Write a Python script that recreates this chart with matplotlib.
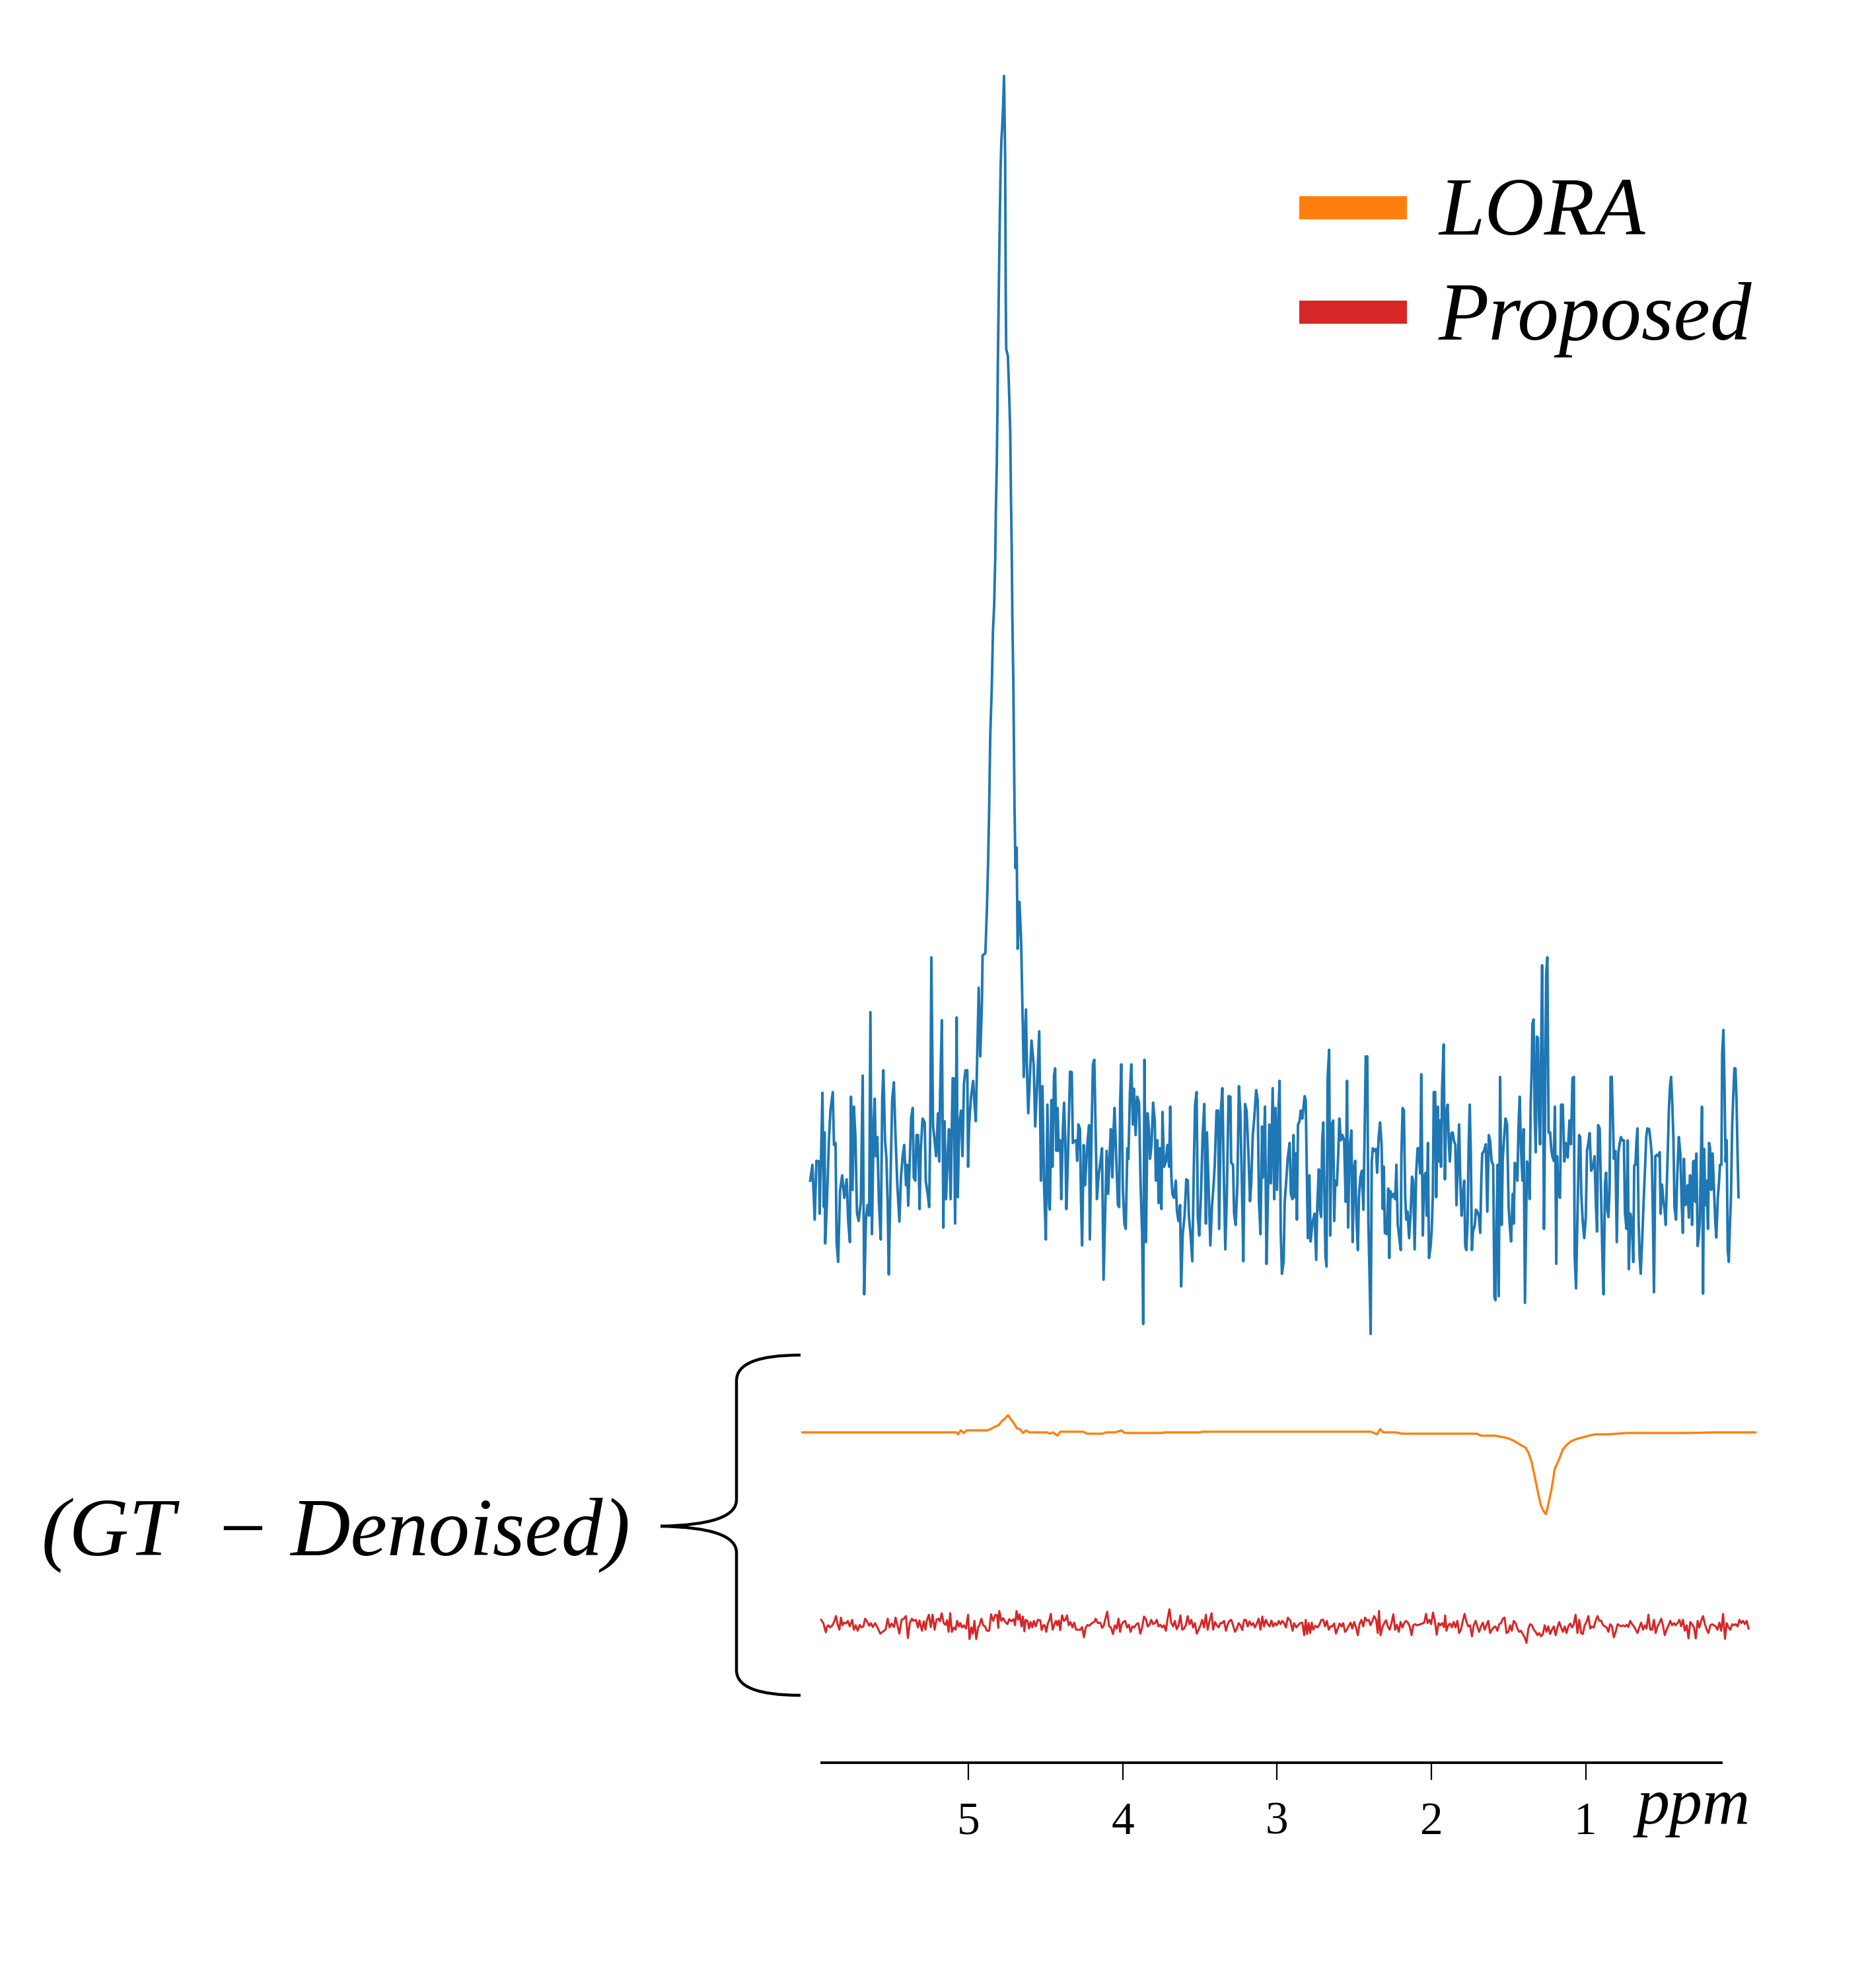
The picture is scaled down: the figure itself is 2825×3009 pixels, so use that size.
import matplotlib
matplotlib.use('Agg')
import matplotlib.pyplot as plt
from matplotlib.path import Path
from matplotlib.patches import PathPatch, Rectangle

# measured spectrum (GT) and the two residuals, ppm vs. intensity (a.u.)
blue_ppm = [
    6.025, 6.011, 5.996, 5.985, 5.968, 5.964, 5.954, 5.946, 5.936, 5.932,
    5.928, 5.918, 5.911, 5.904, 5.894, 5.879, 5.871, 5.861, 5.854, 5.844,
    5.832, 5.818, 5.804, 5.789, 5.779, 5.768, 5.761, 5.751, 5.742, 5.732,
    5.722, 5.711, 5.697, 5.685, 5.675, 5.664, 5.654, 5.643, 5.635, 5.625,
    5.614, 5.607, 5.600, 5.590, 5.580, 5.568, 5.558, 5.551, 5.540, 5.531,
    5.523, 5.516, 5.504, 5.494, 5.483, 5.473, 5.461, 5.447, 5.437, 5.426,
    5.416, 5.404, 5.397, 5.390, 5.380, 5.371, 5.361, 5.354, 5.344, 5.336,
    5.326, 5.316, 5.309, 5.297, 5.283, 5.276, 5.264, 5.254, 5.247, 5.240,
    5.229, 5.219, 5.209, 5.197, 5.189, 5.183, 5.172, 5.162, 5.155, 5.145,
    5.136, 5.126, 5.115, 5.102, 5.095, 5.086, 5.076, 5.069, 5.059, 5.048,
    5.038, 5.029, 5.019, 5.007, 5.002, 4.995, 4.983, 4.969, 4.962, 4.952,
    4.943, 4.933, 4.923, 4.912, 4.908, 4.890,
    # water peak
    4.880, 4.872, 4.866, 4.862, 4.858, 4.848, 4.841, 4.833, 4.826, 4.822,
    4.816, 4.812, 4.809, 4.805, 4.801, 4.796, 4.791, 4.786, 4.781, 4.775,
    4.769, 4.762, 4.758, 4.755, 4.744, 4.738, 4.729, 4.724, 4.719, 4.715,
    4.709, 4.705, 4.701, 4.695, 4.687, 4.681, 4.669, 4.658, 4.651, 4.641,
    4.627,
    4.619, 4.612, 4.591, 4.577, 4.567, 4.555, 4.541, 4.530, 4.520, 4.510,
    4.498, 4.488, 4.477,
    4.472, 4.462, 4.455, 4.445, 4.438, 4.430, 4.422, 4.415, 4.405, 4.398,
    4.387, 4.380, 4.372, 4.365, 4.355, 4.348, 4.341, 4.330, 4.323, 4.313,
    4.301, 4.295, 4.287, 4.277, 4.270, 4.263, 4.253, 4.244, 4.234, 4.227,
    4.218, 4.213, 4.201, 4.193, 4.184, 4.174, 4.167, 4.156, 4.144, 4.134,
    4.124, 4.113, 4.104, 4.094, 4.084, 4.077, 4.067, 4.059, 4.053, 4.041,
    4.031, 4.023, 4.016, 4.009, 3.999, 3.989, 3.980, 3.970, 3.963, 3.953,
    3.944, 3.934, 3.927, 3.916, 3.906, 3.894, 3.884, 3.874, 3.867, 3.859,
    3.849, 3.839, 3.830, 3.823, 3.813, 3.803, 3.792, 3.785, 3.775, 3.767,
    3.759, 3.749, 3.742, 3.732, 3.720, 3.710, 3.699, 3.692, 3.685, 3.678,
    3.668, 3.656, 3.649, 3.639, 3.628, 3.621, 3.611, 3.599, 3.588, 3.578,
    3.571, 3.559, 3.549, 3.539, 3.531, 3.521, 3.513, 3.504, 3.492, 3.482,
    3.471, 3.461, 3.454, 3.442, 3.432, 3.421, 3.411, 3.404, 3.392, 3.382,
    3.375, 3.364, 3.354, 3.345, 3.335, 3.325, 3.314, 3.302, 3.297, 3.285,
    3.278, 3.268, 3.257, 3.247, 3.238, 3.228, 3.218, 3.207, 3.197, 3.185,
    3.175, 3.167, 3.157, 3.147, 3.135, 3.125, 3.117, 3.107, 3.097, 3.090,
    3.078, 3.068, 3.060, 3.050, 3.040, 3.028, 3.018, 3.010, 3.000, 2.990,
    2.983, 2.976, 2.968, 2.957, 2.950, 2.940, 2.931,
    2.918, 2.910, 2.900, 2.893, 2.886, 2.879, 2.871, 2.864, 2.854, 2.846,
    2.836, 2.829, 2.821, 2.814, 2.807, 2.800, 2.790, 2.782, 2.771, 2.757,
    2.746, 2.739, 2.729, 2.722, 2.714, 2.707, 2.700, 2.693, 2.686, 2.679,
    2.672, 2.662, 2.655, 2.646, 2.636, 2.629, 2.622, 2.612, 2.603, 2.596,
    2.586, 2.576, 2.565, 2.555, 2.546, 2.539, 2.529, 2.518, 2.510, 2.500,
    2.493, 2.486, 2.476, 2.469, 2.460, 2.450, 2.440, 2.432, 2.425, 2.415,
    2.408, 2.400, 2.393, 2.386, 2.379, 2.369, 2.358, 2.351, 2.341, 2.332,
    2.322, 2.315, 2.308, 2.301, 2.289, 2.279, 2.272, 2.265, 2.255, 2.244,
    2.234, 2.226, 2.218, 2.208, 2.198, 2.194, 2.186, 2.178, 2.169, 2.162,
    2.154, 2.144, 2.134, 2.125, 2.118, 2.108, 2.098, 2.089, 2.082, 2.072,
    2.065, 2.055, 2.047, 2.037, 2.030, 2.022, 2.015, 2.005, 1.997, 1.990,
    1.984, 1.975, 1.968, 1.958, 1.950, 1.944, 1.937, 1.930, 1.920, 1.912,
    1.904, 1.894, 1.887, 1.880, 1.870, 1.861, 1.854, 1.844, 1.837, 1.830,
    1.820, 1.813, 1.804, 1.797, 1.787, 1.780, 1.773, 1.765, 1.758, 1.751,
    1.744, 1.737, 1.730, 1.718, 1.711, 1.701, 1.691, 1.683, 1.676, 1.670,
    1.658, 1.647, 1.637, 1.627, 1.619, 1.609, 1.599, 1.591, 1.584, 1.577,
    1.570, 1.563, 1.554, 1.544, 1.537, 1.527, 1.519, 1.509, 1.499, 1.490,
    1.483, 1.473, 1.466, 1.459, 1.452, 1.442, 1.435, 1.427, 1.419, 1.409,
    1.402, 1.393,
    1.380, 1.370, 1.363, 1.356, 1.349, 1.345, 1.337, 1.330, 1.323, 1.316,
    1.309, 1.302, 1.295, 1.288, 1.282, 1.276, 1.270, 1.263, 1.256, 1.248,
    1.240, 1.230, 1.223, 1.216, 1.206, 1.199, 1.190, 1.185, 1.176, 1.166,
    1.159, 1.148, 1.138, 1.128, 1.116, 1.105, 1.095, 1.085, 1.076, 1.071,
    1.062, 1.052, 1.042, 1.035, 1.028, 1.019, 1.009, 0.999, 0.991, 0.984,
    0.974, 0.964, 0.952, 0.942, 0.934, 0.926, 0.919, 0.909, 0.899, 0.891,
    0.884, 0.874, 0.867, 0.859, 0.852, 0.845, 0.838, 0.831, 0.824, 0.817,
    0.807, 0.798, 0.788, 0.781, 0.771, 0.762, 0.752, 0.745, 0.735, 0.727,
    0.720, 0.710, 0.700, 0.691, 0.685, 0.677, 0.671, 0.664, 0.657, 0.650,
    0.643, 0.634, 0.624, 0.614, 0.607, 0.600, 0.588, 0.578, 0.571, 0.563,
    0.557, 0.548, 0.538, 0.528, 0.520, 0.514, 0.505, 0.495, 0.488, 0.481,
    0.474, 0.467, 0.460, 0.453, 0.446, 0.438, 0.431, 0.424, 0.414, 0.406,
    0.396, 0.386, 0.377, 0.370, 0.363, 0.353, 0.346, 0.339, 0.331, 0.324,
    0.317, 0.310, 0.303, 0.296, 0.289, 0.282, 0.274, 0.267, 0.260, 0.253,
    0.246, 0.239, 0.232, 0.224, 0.217, 0.207, 0.200, 0.193, 0.186, 0.177,
    0.167, 0.160, 0.153, 0.143, 0.136, 0.129, 0.120, 0.115, 0.107, 0.100,
    0.093, 0.086, 0.079, 0.072, 0.065, 0.058, 0.050, 0.043, 0.036, 0.029,
    0.022, 0.015, 0.009,
]
blue_int = [
    -1.04, -0.80, -1.63, -0.74, -0.75, -1.54, -0.59, 0.29, -1.44, -0.31,
    -1.99, -1.44, -0.96, -0.43, 0.02, 0.30, -0.50, -0.47, -1.97, -2.27,
    -1.20, -0.96, -1.30, -1.02, -1.65, -1.97, 0.23, -1.18, 0.08, -0.38,
    -1.53, -1.65, -1.36, 0.55, -2.76, -1.63, -1.41, -1.57, 1.51, -1.85,
    -0.19, 0.20, -0.67, -0.38, -1.36, -1.93, 0.23, 0.63, -0.43, -0.71,
    -1.42, -2.46, -0.96, 0.18, 0.45, -0.31, -1.08, -1.66, -0.99, -0.67,
    -0.50, -1.11, -0.80, -1.42, -0.75, -0.10, 0.06, -0.99, -1.04, -0.35,
    -0.35, -1.47, -0.59, -0.10, -0.16, -1.05, -1.24, -1.44, -0.22, 2.34,
    -0.22, -0.43, -0.67, -0.02, -0.75, 0.30, 1.39, -1.75, -0.14, -1.32,
    -0.75, -0.26, -1.32, 0.51, 0.51, -1.69, 1.43, -1.29, -0.19, 0.02,
    -0.67, 0.42, 0.63, 0.63, -0.83, -0.19, 0.23, 0.47, 0.18, -0.14,
    0.84, 1.88, 0.84, 1.67, 2.37, 2.40,
    # water peak
    3.08, 3.79, 4.51, 5.12, 5.73, 6.45, 7.26, 7.67, 8.38, 9.10,
    9.81, 10.58, 11.34, 12.06, 12.77, 13.59, 14.30, 14.71, 14.91, 15.22,
    15.68, 14.50, 12.36, 11.55, 11.44, 11.04, 10.32, 9.30, 8.49, 7.47,
    6.55, 5.63, 4.61, 3.69, 4.00, 2.47, 3.18, 2.57, 1.75, 0.53,
    1.55,
    0.51, -0.02, 1.08, 0.72, -0.22, 0.39, 1.22, -1.04, 0.39, -1.08,
    -1.93, 0.11, -1.41,
    -1.48, 0.18, -0.83, 0.55, 0.66, -0.59, 0.06, -0.59, -0.43, -1.32,
    -0.22, 0.14, -0.43, -1.47, -0.71, -0.02, 0.61, 0.60, -0.47, -0.44,
    -0.43, -0.74, -0.19, -0.26, -1.36, -2.02, -0.50, -1.11, -0.67, -0.43,
    -0.20, -1.93, -0.22, 0.72, 0.79, -0.43, -1.32, -0.96, -0.75, -0.55,
    -2.54, -1.48, -0.59, -1.24, -0.63, -0.26, -0.99, -0.28, 0.06, -0.75,
    -1.41, -1.44, 0.18, 0.72, -1.16, -1.69, -1.77, -0.55, -0.71, 0.30,
    0.72, -0.19, 0.35, -0.35, 0.23, 0.14, -1.11, -1.85, -3.21, 0.79,
    -1.97, -0.02, -0.26, -0.71, -0.50, 0.14, -0.14, -1.04, -0.43, -1.38,
    -0.55, -1.47, 0.00, -0.83, -0.75, -0.50, -0.83, 0.08, -0.96, -1.24,
    -1.30, -1.04, -1.48, -1.65, -1.41, -2.64, -1.85, -1.57, -1.02, -1.04,
    -1.57, -1.90, -2.26, -0.83, 0.11, 0.30, -1.59, -1.87, -1.20, -0.35,
    0.12, -1.69, -0.31, -1.24, -2.02, -1.42, -1.11, -0.83, 0.02, 0.02,
    -1.77, 0.02, 0.36, -0.92, -2.08, -1.24, 0.24, 0.23, -0.77, -0.80,
    -1.54, -1.71, -1.11, 0.39, 0.02, -1.04, -2.26, 0.12, 0.02, -0.63,
    -1.35, -1.08, -0.35, -0.08, 0.33, 0.18, -1.36, -1.85, -0.22, -0.99,
    0.08, -2.30, -1.41, -0.19, -1.08, 0.36, -1.32, 0.06, -1.18, 0.06,
    0.47, -1.79, -2.45, -2.26, -1.36, -1.04, -0.71,
    -0.47, -1.24, -1.32, -0.35, -1.29, -0.63, -1.63, -0.19, -0.14, 0.02,
    -0.10, 0.06, 0.24, 0.18, -0.87, -1.91, -0.96, -1.96, -1.69, -1.54,
    -2.24, -1.41, -0.87, -1.48, -1.59, -0.43, -0.16, -1.16, -2.18, -2.34,
    0.51, 0.94, -1.87, -0.19, -0.13, -1.65, -1.04, -1.11, -0.63, -0.10,
    -0.43, -0.35, -0.43, -1.36, 0.47, -1.75, -0.55, -0.28, -1.97, -0.83,
    -0.74, -1.57, -2.09, -1.29, -0.99, -0.89, -1.48, -0.31, 0.84, 0.84,
    -1.65, -2.51, -3.36, -0.75, -0.55, -0.59, -0.56, -0.92, -0.38, -0.16,
    -0.50, -1.47, -0.83, -1.83, -1.85, -1.16, -2.21, -1.20, -1.29, -1.24,
    -1.32, -0.80, -1.69, -1.90, -2.09, -0.67, 0.06, 0.02, -1.29, -1.63,
    -1.51, -1.91, -1.53, -0.98, -1.04, -2.08, -0.92, -0.55, -0.55, -0.93,
    0.57, -1.87, -0.99, -0.92, -1.57, -0.47, -2.21, -2.05, -1.77, -1.24,
    0.30, 0.30, -1.29, 0.08, -0.75, -0.13, -0.83, 0.35, 1.02, -1.02,
    -0.02, 0.11, -0.43, -0.75, -0.32, -0.31, -0.43, -0.50, -1.41, -0.92,
    -0.19, -0.96, -1.57, -1.29, -1.04, -2.03, -2.09, -1.65, -0.50, 0.11,
    -0.63, -2.09, -1.81, -1.71, -1.48, -1.51, -1.59, -1.83, -1.04, -0.63,
    -0.59, -0.49, -1.51, -0.35, -0.44, -0.75, -0.80, -2.81, -2.85, -1.65,
    -0.80, -2.79, 0.53, -1.71, -0.71, -0.35, -0.10, -0.19, -1.44, -1.77,
    -1.96, -1.24, -1.69, -0.77, -0.80, -1.04, -0.22, 0.23, -0.55, -1.04,
    -0.26, -2.89,
    -0.75, -0.87, -1.32, 0.11, 0.67, 1.33, 1.40, -0.06, -0.61, 1.14,
    1.12, -0.10, -0.49, 1.03, 2.22, 0.67, -1.77, -0.10, 2.07, 2.34,
    -0.31, -0.31, -0.55, -0.67, -0.74, 0.08, -2.30, -0.67, -1.24, -1.30,
    0.11, 0.11, -0.75, -0.47, -0.69, -0.13, -0.49, 0.51, 0.53, -2.18,
    -2.67, -1.48, -0.35, -0.38, -1.24, -1.65, -1.91, -1.60, -0.59, -0.50,
    -0.32, -0.89, -0.83, -0.67, -1.36, -1.81, -0.20, -0.25, -1.36, -2.21,
    -2.76, -1.08, -0.92, -1.48, -1.59, -1.20, 0.53, 0.53, -0.02, -0.71,
    -0.59, -1.97, -0.63, -0.50, -0.38, -0.43, -0.43, -1.53, -1.77, -0.43,
    -2.38, -1.54, -1.65, -2.27, -0.81, -0.80, -0.47, -0.25, -1.60, -2.18,
    -2.45, -1.97, -1.36, -0.80, -0.38, -0.25, -0.26, -0.47, -0.67, -1.72,
    -2.73, -0.67, -0.65, -0.67, -0.61, -1.54, -1.10, -1.36, -1.48, -1.71,
    -1.14, -0.55, 0.06, 0.39, 0.53, 0.11, -0.41, -1.44, -1.63, -0.96,
    -0.38, -0.63, -1.41, -1.83, -0.71, -1.41, -1.32, -1.11, -1.60, -0.96,
    -0.99, -1.71, -0.75, -0.74, -1.36, -0.63, -2.03, -1.90, -1.65, -0.71,
    0.08, -2.75, -0.56, -1.41, -1.04, -1.77, -0.47, -0.55, -1.18, -0.63,
    -1.24, -1.65, -1.90, -1.29, -1.08, -0.80, -0.80, 0.88, 1.24, 0.39,
    -0.75, -0.43, -2.09, -2.27, -1.72, -1.29, -0.19, 0.23, 0.66, 0.66,
    0.18, -0.67, -1.29,
]

# GT - Denoised, LORA
lora_ppm = [
    6.076, 5.078, 5.066, 5.050, 5.030, 5.010, 4.877, 4.856, 4.824, 4.803,
    4.783, 4.763, 4.743, 4.722, 4.703, 4.686, 4.667, 4.646, 4.626, 4.606,
    4.492, 4.473, 4.452, 4.424, 4.404, 4.258, 4.230, 4.129, 4.109, 4.047,
    4.008, 3.987, 3.745, 3.733, 3.503, 3.483, 2.392, 2.352, 2.331, 2.312,
    2.230, 2.190, 1.706, 1.677, 1.584, 1.544, 1.503, 1.463, 1.422, 1.390,
    1.370, 1.350, 1.329, 1.309, 1.289, 1.273, 1.257, 1.241, 1.220, 1.200,
    1.172, 1.148, 1.119, 1.091, 1.059, 1.026, 0.979, 0.938, 0.857, 0.736,
    0.331, 0.171, -0.101,
]
lora_int = [
    0.00, 0.00, -0.03, 0.03, -0.01, 0.03, 0.03, 0.05, 0.09, 0.11,
    0.17, 0.21, 0.26, 0.19, 0.13, 0.06, 0.05, -0.01, 0.03, 0.00,
    0.00, -0.02, 0.00, -0.05, 0.01, 0.01, -0.02, -0.02, 0.00, 0.00,
    0.03, -0.01, -0.01, 0.00, 0.00, 0.01, 0.01, -0.03, 0.05, 0.00,
    0.00, -0.02, -0.02, -0.05, -0.05, -0.07, -0.09, -0.13, -0.19, -0.23,
    -0.31, -0.45, -0.68, -0.91, -1.11, -1.19, -1.24, -1.08, -0.85, -0.55,
    -0.41, -0.26, -0.18, -0.13, -0.10, -0.08, -0.05, -0.03, -0.03, -0.01,
    -0.01, 0.00, 0.00,
]

# GT - Denoised, Proposed
prop_ppm = [
    5.954, 5.940, 5.924, 5.915, 5.907, 5.897, 5.881, 5.871, 5.858, 5.848,
    5.836, 5.826, 5.816, 5.806, 5.793, 5.781, 5.769, 5.753, 5.742, 5.730,
    5.718, 5.704, 5.694, 5.681, 5.669, 5.655, 5.643, 5.632, 5.620, 5.604,
    5.586, 5.571, 5.553, 5.537, 5.523, 5.511, 5.498, 5.482, 5.472, 5.458,
    5.447, 5.433, 5.419, 5.405, 5.392, 5.380, 5.366, 5.356, 5.340, 5.327,
    5.317, 5.301, 5.289, 5.278, 5.270, 5.256, 5.244, 5.232, 5.219, 5.207,
    5.195, 5.185, 5.173, 5.160, 5.148, 5.138, 5.128, 5.118, 5.107, 5.095,
    5.083, 5.073, 5.061, 5.052, 5.042, 5.030, 5.016, 5.002, 4.993, 4.981,
    4.971, 4.961, 4.949, 4.937, 4.928, 4.916, 4.904, 4.892, 4.880, 4.865,
    4.853, 4.839, 4.825, 4.814, 4.806, 4.800, 4.786, 4.774, 4.761, 4.747,
    4.735, 4.721, 4.707, 4.698, 4.688, 4.678, 4.668, 4.656, 4.647, 4.637,
    4.629, 4.617, 4.607, 4.597, 4.586, 4.576, 4.564, 4.550, 4.534, 4.525,
    4.515, 4.505, 4.495, 4.485, 4.475, 4.466, 4.454, 4.442, 4.432, 4.424,
    4.414, 4.405, 4.393, 4.381, 4.371, 4.361, 4.350, 4.338, 4.326, 4.314,
    4.302, 4.287, 4.275, 4.263, 4.251, 4.240, 4.228, 4.216, 4.200, 4.184,
    4.175, 4.161, 4.145, 4.133, 4.122, 4.112, 4.100, 4.088, 4.076, 4.063,
    4.051, 4.039, 4.027, 4.017, 4.008, 3.996, 3.984, 3.972, 3.960, 3.949,
    3.937, 3.925, 3.911, 3.899, 3.886, 3.874, 3.862, 3.850, 3.838, 3.827,
    3.815, 3.803, 3.791, 3.779, 3.768, 3.756, 3.744, 3.732, 3.720, 3.709,
    3.697, 3.685, 3.673, 3.662, 3.650, 3.638, 3.626, 3.614, 3.603, 3.591,
    3.579, 3.567, 3.555, 3.544, 3.532, 3.520, 3.508, 3.496, 3.485, 3.473,
    3.461, 3.449, 3.437, 3.424, 3.414, 3.402, 3.390, 3.378, 3.367, 3.355,
    3.343, 3.331, 3.319, 3.308, 3.296, 3.284, 3.272, 3.260, 3.249, 3.237,
    3.225, 3.213, 3.202, 3.190, 3.178, 3.166, 3.154, 3.143, 3.131, 3.119,
    3.107, 3.095, 3.084, 3.072, 3.060, 3.048, 3.036, 3.025, 3.013, 3.001,
    2.989, 2.977, 2.966, 2.954, 2.942, 2.930,
    2.913, 2.899, 2.889, 2.875, 2.864, 2.850, 2.836, 2.824, 2.814, 2.805,
    2.795, 2.785, 2.775, 2.765, 2.752, 2.738, 2.726, 2.712, 2.700, 2.689,
    2.677, 2.665, 2.653, 2.641, 2.630, 2.618, 2.606, 2.594, 2.582, 2.571,
    2.559, 2.547, 2.535, 2.523, 2.512, 2.500, 2.488, 2.476, 2.465, 2.453,
    2.441, 2.429, 2.417, 2.406, 2.394, 2.382, 2.370, 2.358, 2.347, 2.339,
    2.329, 2.317, 2.305, 2.293, 2.282, 2.270, 2.258, 2.246, 2.235, 2.223,
    2.211, 2.199, 2.187, 2.176, 2.164, 2.152, 2.140, 2.128, 2.117, 2.105,
    2.093, 2.081, 2.069, 2.058, 2.046, 2.034, 2.024, 2.012, 2.001, 1.989,
    1.977, 1.965, 1.953, 1.942, 1.930, 1.918, 1.910, 1.902, 1.890, 1.879,
    1.867, 1.855, 1.843, 1.831, 1.820, 1.808, 1.796, 1.784, 1.772, 1.761,
    1.749, 1.737, 1.725, 1.713, 1.702, 1.690, 1.678, 1.666, 1.654, 1.643,
    1.631, 1.619, 1.607, 1.596, 1.584, 1.572, 1.560, 1.548, 1.537, 1.525,
    1.513, 1.501, 1.489, 1.478, 1.466, 1.454, 1.442, 1.430, 1.419, 1.407,
    1.395, 1.383, 1.371, 1.360, 1.348, 1.336, 1.324, 1.312, 1.301, 1.289,
    1.277, 1.265, 1.253, 1.242, 1.230, 1.218, 1.206, 1.194, 1.183, 1.171,
    1.159, 1.147, 1.135, 1.124, 1.112, 1.100, 1.088, 1.077, 1.065, 1.053,
    1.041, 1.029, 1.018, 1.006, 0.994, 0.982, 0.970, 0.959, 0.947, 0.935,
    0.923, 0.911, 0.900, 0.888, 0.876, 0.864, 0.852, 0.841, 0.829, 0.817,
    0.805, 0.793, 0.782, 0.770, 0.758, 0.746, 0.734, 0.723, 0.711, 0.699,
    0.687, 0.675, 0.664, 0.652, 0.640, 0.628, 0.616, 0.605, 0.593, 0.581,
    0.569, 0.557, 0.546, 0.534, 0.522, 0.510, 0.499, 0.487, 0.475, 0.463,
    0.451, 0.440, 0.428, 0.416, 0.404, 0.392, 0.381, 0.369, 0.357, 0.345,
    0.333, 0.322, 0.310, 0.298, 0.286, 0.274, 0.263, 0.251, 0.239, 0.227,
    0.215, 0.204, 0.192, 0.180, 0.168, 0.157, 0.145, 0.133, 0.121, 0.109,
    0.097, 0.086, 0.074, 0.062, 0.050, 0.038, 0.027, 0.015, 0.003, -0.009,
    -0.021, -0.032, -0.044, -0.056,
]
prop_int = [
    0.083, 0.033, -0.107, -0.017, 0, -0.033, 0, 0.05, 0.14, 0.017,
    -0.067, 0.117, 0, 0.04, 0.027, 0.067, -0.017, 0.083, -0.067, 0,
    -0.083, 0.007, -0.033, -0.017, 0.1, 0.05, -0.007, 0.033, -0.027, 0.033,
    -0.05, -0.127, -0.093, -0.067, 0.1, -0.033, 0.027, -0.027, 0.117, -0.017,
    -0.127, 0.083, 0.1, 0.14, -0.193, 0.033, 0.1, 0.067, 0.083, -0.033,
    0.073, -0.083, 0.06, -0.067, 0.067, 0.16, -0.027, 0.16, -0.067, 0.083,
    0.1, 0.06, 0.183, 0.033, 0.007, 0.077, -0.1, 0.183, -0.1, -0.033,
    -0.067, 0.067, -0.017, 0.033, -0.033, 0, -0.05, 0.16, -0.21, -0.033,
    -0.127, 0.067, -0.21, -0.033, 0, 0.1, 0, -0.017, -0.083, -0.083,
    0.167, 0.067, 0.16, 0.15, -0.04, 0.217, 0.067, 0.107, 0.05, 0.017,
    0.093, 0.06, 0.093, 0, 0.217, 0.083, 0.167, -0.017, 0.133, -0.093,
    0.083, 0.067, -0.05, 0.05, -0.033, 0.067, -0.017, 0.083, 0.073, -0.073,
    0, 0, -0.1, 0.027, 0.083, 0.173, -0.067, 0.017, 0.067, 0,
    0.073, -0.073, 0.15, 0.067, 0.083, 0.15, 0, 0.05, -0.033, 0.04,
    -0.067, -0.067, -0.067, -0.027, -0.183, -0.04, 0.007, -0.007, 0.033, 0.05,
    0.1, 0.033, 0.04, -0.04, 0, 0.1, 0.207, -0.017, -0.033, -0.133,
    0, -0.05, 0.1, -0.1, 0.007, 0.05, 0.067, -0.033, 0.007, -0.1,
    -0.017, -0.033, 0.017, 0.033, -0.127, -0.033, 0.133, 0.093, -0.017, 0.007,
    0.083, 0.017, 0.033, 0.083, -0.017, 0.007, -0.033, 0, -0.083, 0.1,
    0.243, 0.033, -0.017, 0.067, -0.06, 0, 0.15, -0.067, -0.05, 0,
    0.14, 0.017, 0.083, -0.033, 0.033, -0.127, -0.067, 0, 0.083, -0.033,
    0.16, -0.067, 0.067, 0.183, -0.067, 0.05, 0, -0.033, 0.033, 0.033,
    0.067, -0.083, 0.017, 0.067, 0.083, -0.007, -0.1, -0.05, 0.033, 0,
    -0.073, 0.083, 0.083, -0.017, 0.06, 0, 0.033, -0.033, 0.027, 0.1,
    -0.067, 0.133, -0.017, 0.083, 0.017, -0.017, 0.073, -0.017, 0.033, 0,
    0.067, 0.017, 0.067, 0.033, -0.033, 0.117,
    0.067, -0.083, 0.033, -0.033, 0, 0.033, 0.04, -0.15, 0.083, -0.133,
    0.033, -0.117, 0.04, -0.067, -0.007, -0.033, 0.007, 0.083, 0.083, -0.017,
    0.067, -0.067, -0.017, -0.017, 0.027, -0.127, -0.05, 0.027, -0.017, 0.033,
    -0.1, -0.067, -0.007, 0.04, -0.05, 0.05, -0.033, -0.15, 0.017, 0.083,
    -0.017, 0.117, 0.067, 0.083, 0, 0.067, 0.14, 0.083, -0.117, 0.217,
    -0.15, -0.033, 0.033, 0.077, -0.017, -0.067, 0.033, 0.167, -0.067, 0.007,
    -0.1, 0.05, -0.033, 0.033, 0.067, 0.04, -0.017, -0.15, 0, 0.017,
    0, 0.007, 0.017, 0.027, 0.04, 0.173, 0.033, 0.083, 0.017, 0.193,
    0.067, -0.143, 0.033, 0, 0.033, -0.027, 0.15, -0.083, 0, 0.027,
    -0.033, 0.05, -0.033, 0.067, -0.117, -0.067, 0.067, 0.173, 0.05, -0.017,
    0, -0.167, 0, 0.067, -0.017, -0.1, -0.017, 0.04, -0.067, 0,
    0.067, -0.117, -0.067, -0.033, -0.017, -0.083, 0.017, 0.033, 0.1, 0.117,
    -0.117, -0.1, 0, -0.083, 0.067, 0.033, -0.05, -0.1, -0.083, -0.133,
    -0.183, -0.267, -0.05, 0.017, 0, -0.067, -0.1, -0.15, -0.117, -0.167,
    -0.133, 0, -0.1, -0.017, -0.133, -0.067, -0.017, -0.15, -0.033, 0.05,
    -0.033, -0.1, -0.017, -0.117, -0.017, 0.027, -0.033, 0.017, 0.16, -0.117,
    0.083, -0.117, -0.133, 0, 0.05, 0.14, -0.05, -0.017, -0.033, 0.067,
    0.14, 0.067, 0.073, 0.007, -0.017, -0.033, -0.1, 0.017, -0.017, -0.183,
    -0.1, 0.017, 0, -0.017, 0, -0.017, 0.007, -0.027, 0.067, 0.017,
    -0.017, -0.067, -0.117, -0.033, 0.04, -0.067, 0, -0.05, 0.16, -0.067,
    -0.067, 0.083, -0.117, -0.017, 0.033, 0.1, 0, -0.15, -0.067, 0,
    0.067, 0, 0.033, 0, 0.033, 0.083, -0.017, 0.083, -0.083, 0,
    -0.2, 0.05, 0.017, -0.033, -0.2, 0.067, -0.033, 0.067, 0.14, 0.017,
    -0.067, -0.117, 0, 0.017, 0, -0.017, -0.067, 0.04, -0.083, 0.173,
    -0.207, 0.033, -0.033, -0.067, 0.017, 0, 0.017, -0.017, 0.083, 0.033,
    0.067, 0.017, 0.067, -0.05,
]

tick_ppm = [5, 4, 3, 2, 1]
tick_labels = ['5', '4', '3', '2', '1']
legend_labels = ['LORA', 'Proposed']

assert len(blue_ppm) == len(blue_int)
assert len(lora_ppm) == len(lora_int)
assert len(prop_ppm) == len(prop_int)

# vertical offsets of the stacked traces
LORA_OFFSET = -4.85
PROP_OFFSET = -7.77
AXIS_Y = -9.85

BLUE = '#1f77b4'
ORANGE = '#ff7f0e'
RED = '#d62728'
SERIF = ['Liberation Serif', 'DejaVu Serif']

W, H, DPI = 2825, 3009, 200


def fx(px):
    return px / W


def fy(py):
    return 1 - py / H


fig = plt.figure(figsize=(W / DPI, H / DPI), dpi=DPI)
ax = fig.add_axes([fx(1150), fy(2900), (2700 - 1150) / W, (2900 - 60) / H])

ax.plot(blue_ppm, blue_int, color=BLUE, lw=1.4)
ax.plot(lora_ppm, [v + LORA_OFFSET for v in lora_int], color=ORANGE, lw=1.2)
ax.plot(prop_ppm, [v + PROP_OFFSET for v in prop_int], color=RED, lw=1.1)

ax.set_xlim(6.353, -0.282)
ax.set_ylim(-12.17, 16.23)
for s in ['left', 'top', 'right']:
    ax.spines[s].set_visible(False)
ax.spines['bottom'].set_position(('data', AXIS_Y))
ax.spines['bottom'].set_bounds(0.12, 5.95)
ax.spines['bottom'].set_linewidth(1.4)
ax.set_yticks([])
ax.set_xticks(tick_ppm)
ax.set_xticklabels(tick_labels, fontfamily=SERIF, fontsize=25)
ax.tick_params(axis='x', direction='out', length=9.4, width=0.8, pad=12)
ax.patch.set_alpha(0)

fig.text(fx(2478), fy(2760), 'ppm', fontfamily=SERIF, fontstyle='italic',
         fontsize=36, va='baseline', ha='left')

# legend drawn as colour bars + italic labels
for i, (lab, col) in enumerate(zip(legend_labels, [ORANGE, RED])):
    top = 297 + i * 158
    fig.add_artist(Rectangle((fx(1967), fy(top + 35)), 163 / W, 35 / H,
                             transform=fig.transFigure, color=col, lw=0))
    fig.text(fx(2178), fy(355 + i * 159), lab, fontfamily=SERIF,
             fontstyle='italic', fontsize=45, va='baseline', ha='left')

# curly brace grouping the residuals
brace = [(1212, 2051), (1115, 2051), (1115, 2090), (1115, 2270),
         (1115, 2308), (1000, 2310), (1115, 2312), (1115, 2350),
         (1115, 2528), (1115, 2566), (1212, 2566)]
codes = [Path.MOVETO, Path.CURVE3, Path.CURVE3, Path.LINETO,
         Path.CURVE3, Path.CURVE3, Path.CURVE3, Path.CURVE3,
         Path.LINETO, Path.CURVE3, Path.CURVE3]
verts = [(fx(x), fy(y)) for x, y in brace]
fig.add_artist(PathPatch(Path(verts, codes), transform=fig.transFigure,
                         fill=False, lw=1.6, color='black'))

fig.text(fx(63), fy(2353), '(GT  \u2212 Denoised)', fontfamily=SERIF,
         fontstyle='italic', fontsize=45, va='baseline', ha='left')

fig.savefig('out.png', dpi=DPI)
